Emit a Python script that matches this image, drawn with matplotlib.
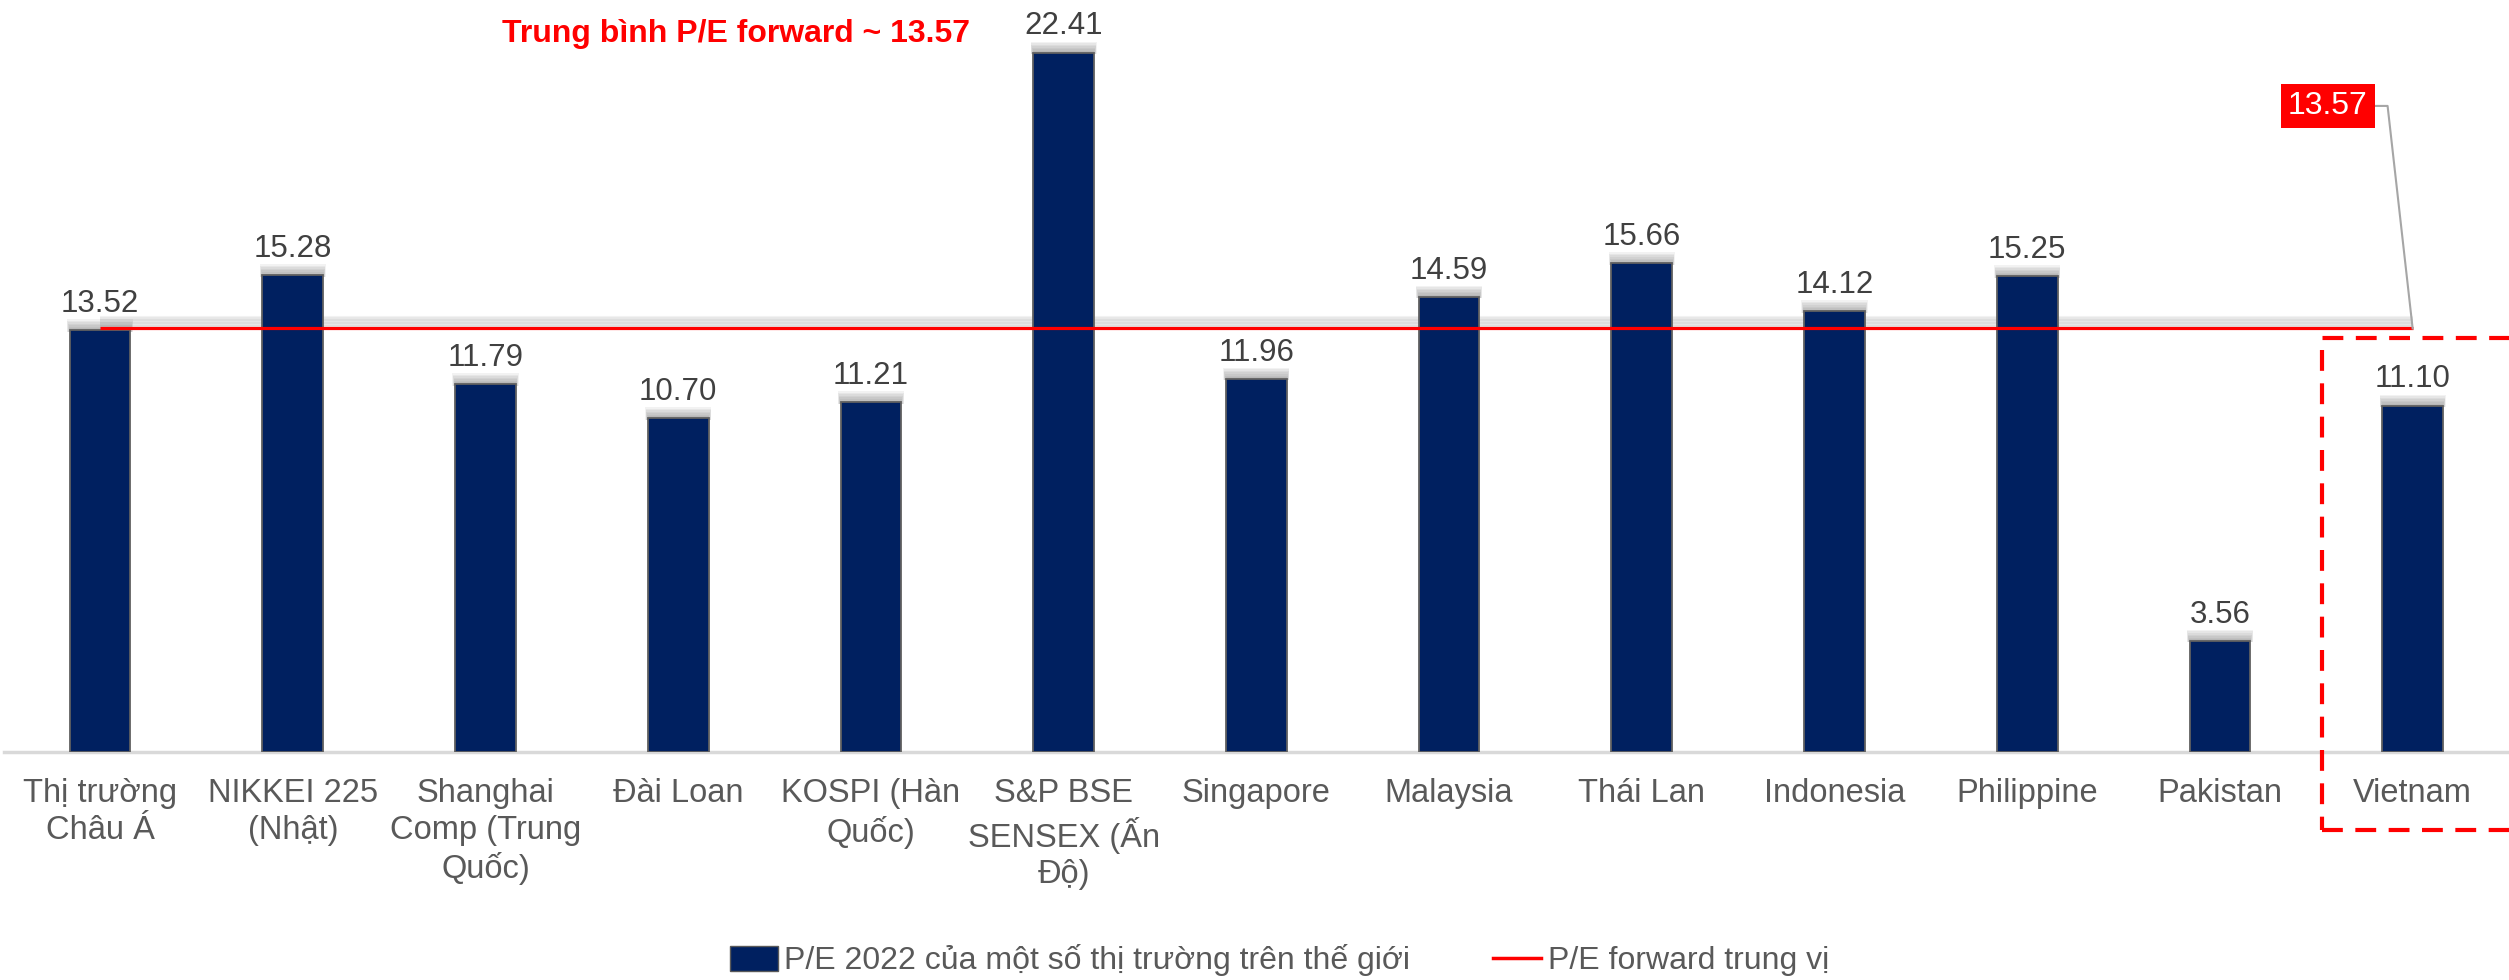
import matplotlib.pyplot as plt
from matplotlib.patches import Rectangle, Patch
from matplotlib.lines import Line2D

plt.rcParams['font.family'] = ['Liberation Sans', 'DejaVu Sans']

# Dữ liệu
markets = ["Thị trường\nChâu Á", "NIKKEI 225\n(Nhật)", "Shanghai\nComp (Trung\nQuốc)", "Đài Loan",
           "KOSPI (Hàn\nQuốc)", "S&P BSE\nSENSEX (Ấn\nĐộ)", "Singapore", "Malaysia", "Thái Lan",
           "Indonesia", "Philippine", "Pakistan", "Vietnam"]
pe_2022 = [13.52, 15.28, 11.79, 10.70, 11.21, 22.41, 11.96, 14.59, 15.66, 14.12, 15.25, 3.56, 11.10]
pe_median = [13.57] * len(markets)
median_label = "13.57"

bar_name = "P/E 2022 của một số thị trường trên thế giới"
line_name = "P/E forward trung vị"

navy = '#002060'
x = list(range(len(markets)))

fig = plt.figure(figsize=(25.09, 9.8), dpi=100)
ax = fig.add_axes([0.0015, 0.2327, 0.9985, 0.7643])

# bóng mờ phía trên cột
for k in range(1, 8):
    ax.bar(x, [0.05 + 0.05 * k] * len(x), bottom=[v - 0.05 for v in pe_2022],
           width=0.315 + 0.004 * k, color='#707070', alpha=0.09, zorder=1, linewidth=0)
ax.bar(x, pe_2022, width=0.315, color=navy, edgecolor='#606060', linewidth=1.3, zorder=3)

# bóng mờ của đường trung vị
for k in range(1, 8):
    ax.plot(x, [v + 0.05 * k for v in pe_median], color='#808080', alpha=0.09,
            lw=3, zorder=2, solid_capstyle='butt')
ax.plot(x, pe_median, color='#ff0000', lw=2.3, zorder=4, solid_capstyle='butt')

for xi, v in zip(x, pe_2022):
    ax.annotate(f"{v:.2f}", (xi, v), xytext=(0, 8), textcoords='offset points',
                ha='center', va='bottom', fontsize=22.5, color='#404040')

ax.set_xlim(-0.5, 12.5)
ax.set_ylim(0, 24)
ax.set_xticks(x)
ax.set_xticklabels(markets, fontsize=23.5, color='#595959', linespacing=1.24)
ax.tick_params(axis='x', length=0, pad=19)
ax.set_yticks([])
for s in ['top', 'right', 'left']:
    ax.spines[s].set_visible(False)
ax.spines['bottom'].set_color('#d9d9d9')
ax.spines['bottom'].set_linewidth(2.5)

# chú thích trung bình
ax.text(3.3, 23.0, "Trung bình P/E forward ~ 13.57", color='#ff0000', fontsize=23,
        fontweight='bold', ha='center', va='center')

# nhãn 13.57 và đường nối
ax.text(11.56, 20.7, median_label, color='white', fontsize=23, ha='center', va='center',
        bbox=dict(boxstyle='square,pad=0.22', fc='#ff0000', ec='none'), zorder=6)
ax.plot([11.81, 11.87, 12.0], [20.7, 20.7, pe_median[-1]], color='#a6a6a6', lw=1.5, zorder=5)

# khung đỏ đứt nét quanh Vietnam
ax.add_patch(Rectangle((11.53, -2.5), 1.5, 15.77, fill=False, ec='#ff0000', lw=3,
                       ls=(0, (5, 3)), clip_on=False, zorder=5))

handles = [Patch(facecolor=navy, edgecolor='#595959'),
           Line2D([0], [0], color='#ff0000', lw=2.5)]
fig.legend(handles, [bar_name, line_name], loc='center', bbox_to_anchor=(0.51, 0.02),
           ncol=2, frameon=False, fontsize=23, labelcolor='#595959',
           handlelength=1.5, handleheight=0.85, handletextpad=0.2, columnspacing=2.6)

fig.savefig('out.png', dpi=100)
